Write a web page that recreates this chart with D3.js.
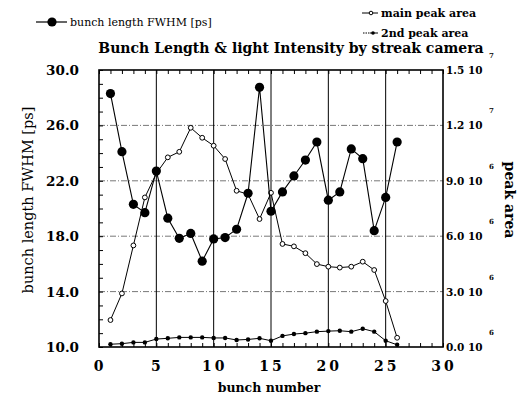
<!DOCTYPE html>
<meta charset="utf-8">
<script src="https://d3js.org/d3.v7.min.js"></script>
<style>
  body { margin: 0; background: #fff; }
  text { font-family: "DejaVu Serif", "Liberation Serif", serif; fill: #000; }
</style>
<div id="my_dataviz"></div>
<script>

// data
var bunch = [1,2,3,4,5,6,7,8,9,10,11,12,13,14,15,16,17,18,19,20,21,22,23,24,25,26];
var fwhm = [28.3,24.1,20.3,19.7,22.7,19.3,17.85,18.2,16.2,17.8,17.9,18.5,21.1,28.75,19.8,21.2,22.35,23.5,24.8,20.6,21.2,24.3,23.6,18.4,20.8,24.8];
// peak areas in units of 1e6
var mainPeak = [1.46,2.9,5.5,8.1,9.4,10.27,10.57,11.87,11.33,10.9,10.18,8.46,8.27,6.93,8.35,5.58,5.45,5.08,4.49,4.35,4.3,4.35,4.62,4.17,2.49,0.5];
var secondPeak = [0.15,0.18,0.25,0.25,0.43,0.47,0.52,0.52,0.52,0.49,0.49,0.38,0.41,0.47,0.34,0.6,0.7,0.75,0.83,0.86,0.88,0.83,0.99,0.83,0.34,0.12];

var xTicks = [0,5,10,15,20,25,30];
var leftTicks = [10,14,18,22,26,30];
var rightTicks = [0,3e6,6e6,9e6,1.2e7,1.5e7];
var rightLabels = ["0.0 10","3.0 10","6.0 10","9.0 10","1.2 10","1.5 10"];
var rightExp = ["6","6","6","6","7","7"];

var W = 518, H = 399;
var margin = {top: 70, right: 75, bottom: 52, left: 99},
    width = W - margin.left - margin.right,
    height = H - margin.top - margin.bottom;

var svg = d3.select("#my_dataviz")
  .append("svg")
    .attr("width", W)
    .attr("height", H);

var g = svg.append("g")
  .attr("transform", "translate(" + margin.left + "," + margin.top + ")");

var x = d3.scaleLinear().domain([0, 30]).range([0, width]);
var yL = d3.scaleLinear().domain([10, 30]).range([height, 0]);
var yR = d3.scaleLinear().domain([0, 1.5e7]).range([height, 0]);

// horizontal dash-dot gridlines
g.append("g")
  .selectAll("line")
  .data([14,18,22,26])
  .enter().append("line")
    .attr("x1", 0).attr("x2", width)
    .attr("y1", function(d) { return yL(d); })
    .attr("y2", function(d) { return yL(d); })
    .attr("stroke", "#555")
    .attr("stroke-width", 0.8)
    .attr("stroke-dasharray", "6,2,1,2");

// vertical gridlines (solid)
g.append("g")
  .selectAll("line")
  .data([5,10,15,20,25])
  .enter().append("line")
    .attr("x1", function(d) { return x(d); })
    .attr("x2", function(d) { return x(d); })
    .attr("y1", 0).attr("y2", height)
    .attr("stroke", "#000")
    .attr("stroke-width", 1);

// minor ticks inside the frame
g.append("g")
  .call(d3.axisBottom(x).ticks(30).tickSize(-4).tickFormat(""))
  .attr("transform", "translate(0," + height + ")")
  .call(function(a) { a.select(".domain").remove(); });
g.append("g")
  .call(d3.axisTop(x).ticks(30).tickSize(-4).tickFormat(""))
  .call(function(a) { a.select(".domain").remove(); });
g.append("g")
  .call(d3.axisLeft(yL).ticks(20).tickSize(-4).tickFormat(""))
  .call(function(a) { a.select(".domain").remove(); });

// frame
g.append("rect")
  .attr("width", width).attr("height", height)
  .attr("fill", "none")
  .attr("stroke", "#000")
  .attr("stroke-width", 1.6);

// x tick labels
g.append("g")
  .selectAll("text")
  .data(xTicks)
  .enter().append("text")
    .attr("x", function(d) { return x(d) + 1; })
    .attr("y", height + 24)
    .attr("text-anchor", "middle")
    .attr("font-size", "14px")
    .attr("font-weight", "bold")
    .attr("letter-spacing", "3px")
    .text(function(d) { return d; });

// left tick labels
g.append("g")
  .selectAll("text")
  .data(leftTicks)
  .enter().append("text")
    .attr("x", -20)
    .attr("y", function(d) { return yL(d) + 5; })
    .attr("text-anchor", "end")
    .attr("font-size", "13.5px")
    .attr("font-weight", "bold")
    .text(function(d) { return d.toFixed(1); });

// right tick labels with exponent
var rt = g.append("g")
  .selectAll("g")
  .data(rightTicks)
  .enter().append("g");
rt.append("text")
    .attr("x", width + 3)
    .attr("y", function(d) { return yR(d) + 4; })
    .attr("font-size", "10.5px")
    .attr("font-weight", "bold")
    .text(function(d, i) { return rightLabels[i]; });
rt.append("text")
    .attr("x", width + 46)
    .attr("y", function(d) { return yR(d) - 12; })
    .attr("font-size", "7px")
    .attr("font-weight", "bold")
    .text(function(d, i) { return rightExp[i]; });

// axis titles
svg.append("text")
  .attr("transform", "translate(33,200) rotate(-90)")
  .attr("text-anchor", "middle")
  .attr("font-size", "14.5px")
  .text("bunch length FWHM [ps]");

svg.append("text")
  .attr("transform", "translate(505,200) rotate(90)")
  .attr("text-anchor", "middle")
  .attr("font-size", "14px")
  .attr("font-weight", "bold")
  .text("peak area");

svg.append("text")
  .attr("x", 269).attr("y", 392)
  .attr("text-anchor", "middle")
  .attr("font-size", "12.5px")
  .attr("font-weight", "bold")
  .text("bunch number");

// title
svg.append("text")
  .attr("x", 291).attr("y", 53)
  .attr("text-anchor", "middle")
  .attr("font-size", "14px")
  .attr("font-weight", "bold")
  .text("Bunch Length & light Intensity by streak camera");

// series lines
var lineL = d3.line()
  .x(function(d, i) { return x(bunch[i]); })
  .y(function(d) { return yL(d); });
var lineR = d3.line()
  .x(function(d, i) { return x(bunch[i]); })
  .y(function(d) { return yR(d * 1e6); });

g.append("path").datum(secondPeak)
  .attr("d", lineR).attr("fill", "none").attr("stroke", "#000").attr("stroke-width", 1);
g.selectAll(".sp").data(secondPeak).enter().append("circle")
  .attr("class", "sp")
  .attr("cx", function(d, i) { return x(bunch[i]); })
  .attr("cy", function(d) { return yR(d * 1e6); })
  .attr("r", 2.2).attr("fill", "#000");

g.append("path").datum(mainPeak)
  .attr("d", lineR).attr("fill", "none").attr("stroke", "#000").attr("stroke-width", 1);
g.selectAll(".mp").data(mainPeak).enter().append("circle")
  .attr("class", "mp")
  .attr("cx", function(d, i) { return x(bunch[i]); })
  .attr("cy", function(d) { return yR(d * 1e6); })
  .attr("r", 2.4).attr("fill", "#fff").attr("stroke", "#000").attr("stroke-width", 1);

g.append("path").datum(fwhm)
  .attr("d", lineL).attr("fill", "none").attr("stroke", "#000").attr("stroke-width", 1.1);
g.selectAll(".bl").data(fwhm).enter().append("circle")
  .attr("class", "bl")
  .attr("cx", function(d, i) { return x(bunch[i]); })
  .attr("cy", function(d) { return yL(d); })
  .attr("r", 4.6).attr("fill", "#000");

// legends
var lg = svg.append("g");
lg.append("line").attr("x1", 36).attr("x2", 67).attr("y1", 22).attr("y2", 22)
  .attr("stroke", "#000").attr("stroke-width", 1.2);
lg.append("circle").attr("cx", 52).attr("cy", 22).attr("r", 4.6).attr("fill", "#000");
lg.append("text").attr("x", 70).attr("y", 26).attr("font-size", "11px")
  .text("bunch length FWHM [ps]");

lg.append("line").attr("x1", 362).attr("x2", 378).attr("y1", 13).attr("y2", 13)
  .attr("stroke", "#000").attr("stroke-width", 1);
lg.append("circle").attr("cx", 371).attr("cy", 13).attr("r", 1.8)
  .attr("fill", "#fff").attr("stroke", "#000").attr("stroke-width", 1);
lg.append("text").attr("x", 381).attr("y", 16.5).attr("font-size", "11px")
  .attr("font-weight", "bold").text("main peak area");

lg.append("line").attr("x1", 363).attr("x2", 370).attr("y1", 33).attr("y2", 33)
  .attr("stroke", "#000").attr("stroke-width", 1).attr("stroke-dasharray", "1.5,1");
lg.append("line").attr("x1", 370).attr("x2", 378).attr("y1", 33).attr("y2", 33)
  .attr("stroke", "#000").attr("stroke-width", 1);
lg.append("circle").attr("cx", 373).attr("cy", 33).attr("r", 1.8).attr("fill", "#000");
lg.append("text").attr("x", 381).attr("y", 36.5).attr("font-size", "11px")
  .attr("font-weight", "bold").text("2nd peak area");

</script>
